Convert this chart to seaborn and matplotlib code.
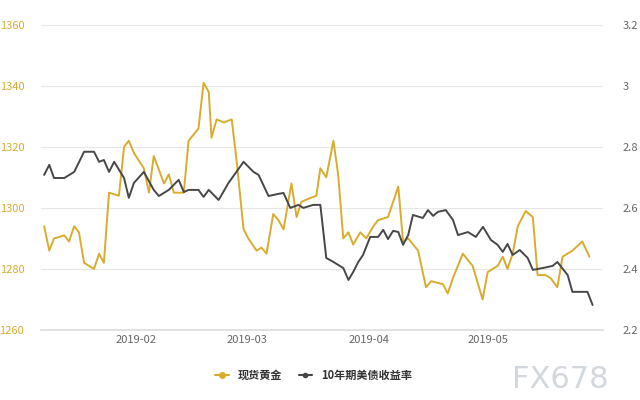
import matplotlib
matplotlib.use("Agg")
import matplotlib.pyplot as plt
import matplotlib.dates as mdates
import seaborn as sns
import pandas as pd
from matplotlib.lines import Line2D

gold_days = [7.8,9.1,10.3,12.9,14.1,15.4,16.6,17.9,20.4,21.7,22.9,24.2,26.7,28.0,29.2,30.5,33.0,34.3,35.5,38.1,39.3,40.6,43.1,44.3,46.8,48.1,49.4,50.1,51.4,53.2,55.2,56.4,58.2,59.4,61.5,62.7,64.0,65.7,67.0,68.3,70.3,71.6,72.8,74.6,76.6,77.6,79.1,80.9,82.1,83.4,84.7,85.9,87.7,89.2,91.0,92.2,94.7,97.3,98.5,99.8,102.3,104.3,105.6,108.6,109.8,111.1,113.6,116.1,118.6,119.9,122.4,123.7,124.9,126.2,127.5,129.5,131.3,132.5,134.5,135.8,137.5,138.8,141.3,143.8,145.6]
gold_vals = [1294,1286,1290,1291,1289,1294,1292,1282,1280,1285,1282,1305,1304,1320,1322,1318,1313,1305,1317,1308,1311,1305,1305,1322,1326,1341,1338,1323,1329,1328,1329,1316,1293,1290,1286,1287,1285,1298,1296,1293,1308,1297,1302,1303,1304,1313,1310,1322,1311,1290,1292,1288,1292,1290,1294,1296,1297,1307,1289,1290,1286,1274,1276,1275,1272,1277,1285,1281,1270,1279,1281,1284,1280,1285,1294,1299,1297,1278,1278,1277,1274,1284,1286,1289,1284]
yield_days = [7.8,9.1,10.3,12.9,15.4,17.9,20.4,21.7,22.9,24.2,25.5,28.0,29.2,30.5,33.0,35.5,36.8,39.3,41.8,43.1,44.3,46.8,48.1,49.4,51.9,54.4,58.2,60.7,62.0,64.5,67.0,68.3,70.0,72.1,73.3,75.8,77.6,79.1,80.9,83.4,84.7,85.9,87.2,88.4,90.2,92.2,93.5,94.7,96.0,97.3,98.5,99.8,101.0,103.5,104.8,106.1,107.3,109.3,111.1,112.4,114.9,116.9,118.7,120.7,122.4,123.7,124.9,126.2,128.0,130.0,131.3,133.8,136.3,137.5,140.1,141.3,145.1,146.4]
yield_vals = [2.708,2.741,2.698,2.698,2.718,2.784,2.784,2.751,2.757,2.718,2.751,2.698,2.633,2.682,2.718,2.659,2.639,2.659,2.692,2.652,2.659,2.659,2.636,2.659,2.626,2.682,2.751,2.718,2.708,2.639,2.646,2.649,2.6,2.61,2.6,2.61,2.61,2.436,2.423,2.403,2.364,2.39,2.423,2.446,2.505,2.505,2.528,2.498,2.525,2.521,2.479,2.511,2.577,2.567,2.593,2.574,2.587,2.593,2.561,2.511,2.521,2.505,2.538,2.495,2.479,2.456,2.482,2.446,2.462,2.436,2.397,2.403,2.41,2.423,2.38,2.325,2.325,2.282]
series_names = ["现货黄金", "10年期美债收益率"]
tick_labels = ["2019-02", "2019-03", "2019-04", "2019-05"]

base = pd.Timestamp("2019-01-01")
gdf = pd.DataFrame({"date": [base + pd.Timedelta(days=d) for d in gold_days], "v": gold_vals})
ydf = pd.DataFrame({"date": [base + pd.Timedelta(days=d) for d in yield_days], "v": yield_vals})

sns.set_theme(style="white")
plt.rcParams['font.family'] = ['Noto Sans CJK SC', 'DejaVu Sans']
GOLD = "#D9AC2E"; DARK = "#474747"

fig = plt.figure(figsize=(6.4, 4.0), dpi=100)
ax = fig.add_axes([0.064, 0.175, 0.878, 0.763])
ax2 = ax.twinx()
sns.lineplot(data=gdf, x="date", y="v", ax=ax, color=GOLD, lw=1.4)
sns.lineplot(data=ydf, x="date", y="v", ax=ax2, color=DARK, lw=1.4)
ax.set_ylim(1260, 1360); ax.set_yticks(range(1260, 1361, 20))
ax2.set_ylim(2.2, 3.2); ax2.set_yticks([2.2,2.4,2.6,2.8,3.0,3.2]); ax2.set_yticklabels(["2.2","2.4","2.6","2.8","3","3.2"])
ax.set_xlim(pd.Timestamp("2019-01-08"), pd.Timestamp("2019-05-30"))
ax.set_xticks([pd.Timestamp(t + "-01") for t in tick_labels]); ax.set_xticklabels(tick_labels)
ax.grid(axis="y", color="#e6e6e6", lw=0.8)
for a in (ax, ax2):
    for s in a.spines.values(): s.set_visible(False)
    a.set_xlabel(""); a.set_ylabel("")
ax.spines["bottom"].set_visible(True); ax.spines["bottom"].set_color("#dddddd")
ax.tick_params(axis="y", colors=GOLD, labelsize=8, length=0, pad=12)
ax.tick_params(axis="x", colors="#666666", labelsize=8, length=5, color="#dddddd", direction="in")
ax2.tick_params(axis="y", colors="#666666", labelsize=8, length=0, pad=14)
handles = [Line2D([], [], color=GOLD, marker="o", ms=4, lw=1.5), Line2D([], [], color=DARK, marker="o", ms=3, lw=1.5)]
leg = fig.legend(handles, series_names, loc="lower center", bbox_to_anchor=(0.49, 0.02), ncol=2, frameon=False, fontsize=8, handlelength=1.2, columnspacing=1.5)
for t in leg.get_texts(): t.set_fontweight("bold"); t.set_color("#333333")
fig.text(0.8, 0.03, "FX678", fontsize=22, color="#d3d8de", family="DejaVu Sans")
fig.savefig("out.png", dpi=100)
